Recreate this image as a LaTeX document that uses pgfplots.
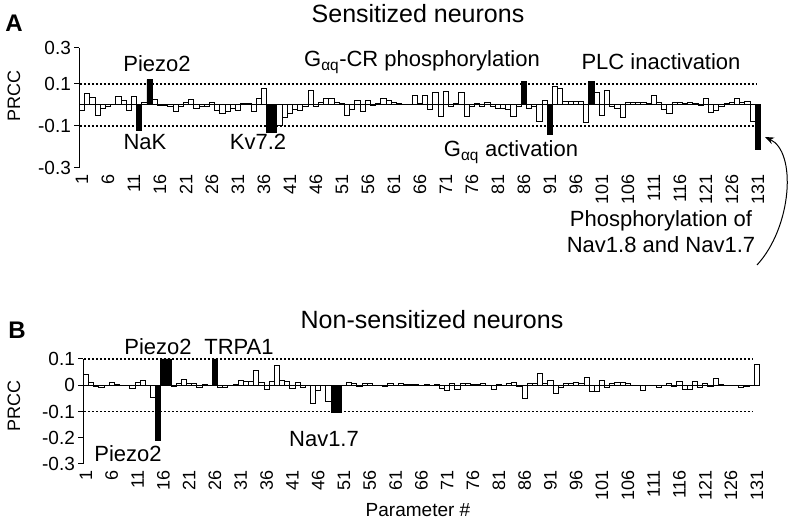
\documentclass[border=0pt]{standalone}
\usepackage{fontspec}
\setmainfont{Liberation Sans}
\usepackage{pgfplots}
\pgfplotsset{compat=1.18}
\usepackage{pgfplotstable}
\usetikzlibrary{arrows.meta}

\pgfplotstableread{
x a b
1 -0.025 0.04
2 0.055 0.012
3 0.037 -0.005
4 -0.05 -0.008
5 -0.015 0
6 -0.008 0.012
7 0.003 0.002
8 0.04 0
9 0.02 0
10 -0.027 -0.012
11 0.04 0.012
12 -0.12 0.017
13 0.01 0
14 0.12 -0.045
15 0.025 -0.21
16 -0.005 0.1
17 -0.005 0.1
18 -0.01 -0.003
19 -0.03 0.005
20 -0.01 0.022
21 0.01 0.008
22 0.025 0.005
23 -0.015 -0.008
24 -0.01 0.002
25 -0.008 0
26 0.012 0.1
27 -0.025 -0.008
28 -0.04 -0.008
29 -0.03 0
30 -0.015 0.002
31 -0.025 0.02
32 0.005 0.015
33 0.005 0.015
34 -0.03 0.055
35 0.03 0.01
36 0.08 -0.015
37 -0.13 0.015
38 -0.13 0.075
39 -0.1 0.02
40 -0.06 0.015
41 -0.04 -0.012
42 -0.02 0.012
43 -0.025 -0.008
44 -0.01 0
45 0.07 -0.07
46 -0.01 -0.02
47 0.01 0
48 0.03 -0.06
49 0.03 -0.105
50 0.01 -0.105
51 0.005 0
52 -0.05 0.012
53 -0.02 0.005
54 0.02 -0.005
55 -0.03 0.005
56 0.02 0.008
57 -0.005 0
58 0.005 0
59 0.03 -0.003
60 0.02 0.005
61 0.01 0
62 0.005 0.005
63 0 0.003
64 0.003 0.002
65 0.045 0.003
66 0.005 0
67 0.045 0.002
68 -0.02 0
69 0.06 0.003
70 -0.055 -0.012
71 0.065 -0.02
72 -0.01 0.005
73 0.005 -0.015
74 0.06 0.005
75 -0.055 0.005
76 -0.01 0.003
77 0.005 0.003
78 -0.01 0.005
79 0.01 0
80 -0.01 -0.015
81 -0.015 0.003
82 -0.015 0
83 -0.02 0.005
84 -0.055 0.01
85 -0.01 -0.005
86 0.11 -0.05
87 -0.015 0.005
88 -0.01 0.005
89 -0.08 0.045
90 0.02 0.005
91 -0.14 0.02
92 0.085 -0.03
93 0.08 -0.01
94 0.015 0.005
95 0.015 0.005
96 0.015 0.01
97 0.015 0.005
98 -0.085 0.03
99 0.11 -0.025
100 0.06 -0.025
101 -0.05 0.02
102 0.07 -0.01
103 -0.01 0.005
104 -0.015 0.01
105 -0.06 0.01
106 0.01 0.005
107 0.01 0
108 0.01 0
109 0.01 -0.02
110 0.005 0
111 0.045 0
112 0.01 -0.01
113 -0.02 0
114 -0.04 0.008
115 0.01 -0.005
116 0.01 0.015
117 0.005 -0.015
118 0.01 -0.015
119 0.005 0.015
120 -0.005 -0.01
121 0.03 0.005
122 -0.035 -0.005
123 -0.025 0.025
124 -0.01 0.003
125 0.005 0
126 0.01 0
127 0.03 0
128 0.01 -0.008
129 0.015 -0.005
130 -0.08 0
131 -0.21 0.08
}\prcc

\pgfplotstableread{
x a
12 -0.12
14 0.12
37 -0.13
38 -0.13
86 0.11
91 -0.14
99 0.11
131 -0.21
}\blackA

\pgfplotstableread{
x b
15 -0.21
16 0.1
17 0.1
26 0.1
49 -0.105
50 -0.105
}\blackB

\begin{document}
\begin{tikzpicture}[x=1pt,y=1pt]
\useasboundingbox (0,0) rectangle (795,527);
\pgfplotsset{
  prccaxis/.style={
    scale only axis, anchor=south west,
    axis y line=left, axis x line=bottom,
    x axis line style={draw=none},
    y axis line style={line width=1pt, -},
    xmin=0.5, xmax=131.5,
    xtick={1,6,...,131},
    xtick style={draw=none},
    ytick style={line width=1pt, black},
    tick align=outside, major tick length=5pt,
    xticklabel style={rotate=90, anchor=east, font=\fontsize{18}{18}\selectfont, inner sep=1pt},
    yticklabel style={font=\fontsize{19}{19}\selectfont},
    /pgf/number format/assume math mode=true,
    clip=false,
  },
  openbar/.style={ybar, bar width=1, bar shift=0pt, draw=black, fill=white, line width=0.9pt},
  fullbar/.style={ybar, bar width=1, bar shift=0pt, draw=black, fill=black, line width=0.9pt},
  dotline/.style={black, line width=1.6pt, dash pattern=on 1.6pt off 2.4pt, no marks},
}

% Panel A
\begin{axis}[prccaxis, at={(79.4pt,359pt)}, width=681pt, height=120pt,
  ymin=-0.3, ymax=0.27,
  ytick={-0.3,-0.1,0.1,0.27}, yticklabels={-0.3,-0.1,0.1,0.3}]
\addplot[openbar] table[x=x, y=a] {\prcc};
\addplot[fullbar] table[x=x, y=a] {\blackA};
\addplot[black, line width=1.3pt, no marks] coordinates {(0.5,0) (131.5,0)};
\addplot[dotline] coordinates {(0.6,0.1) (130.8,0.1)};
\addplot[dotline] coordinates {(0.6,-0.1) (130.8,-0.1)};
\end{axis}

% Panel B
\begin{axis}[prccaxis, at={(83.4pt,63pt)}, width=676pt, height=105pt,
  ymin=-0.3, ymax=0.1,
  ytick={-0.3,-0.2,-0.1,0,0.1}, yticklabels={-0.3,-0.2,-0.1,0,0.1}]
\addplot[openbar] table[x=x, y=b] {\prcc};
\addplot[fullbar] table[x=x, y=b] {\blackB};
\addplot[black, line width=1.3pt, no marks] coordinates {(0.5,0) (131.5,0)};
\addplot[dotline] coordinates {(0.6,0.1) (130.3,0.1)};
\addplot[dotline] coordinates {(0.6,-0.1) (130.3,-0.1)};
\end{axis}

% Panel A texts
\node[font=\fontsize{24}{24}\selectfont\bfseries] at (14,504) {A};
\node[font=\fontsize{25}{25}\selectfont, anchor=base] at (418,504) {Sensitized neurons};
\node[font=\fontsize{18}{18}\selectfont, rotate=90] at (14,431) {PRCC};
\begin{scope}[every node/.style={font=\fontsize{22}{22}\selectfont, anchor=base, inner sep=0pt}]
\node at (157,455) {Piezo2};
\node at (145,377) {NaK};
\node at (258,377) {Kv7.2};
\node at (422,460) {G\textsubscript{αq}-CR phosphorylation};
\node at (661,457) {PLC inactivation};
\node at (511,370) {G\textsubscript{αq} activation};
\node at (661,300) {Phosphorylation of};
\node at (661,274) {Nav1.8 and Nav1.7};
\end{scope}
\draw[-{Stealth[length=9pt,width=7pt]}, line width=1pt] (757,262) .. controls (792,300) and (797,375) .. (765,390);

% Panel B texts
\node[font=\fontsize{24}{24}\selectfont\bfseries] at (17,197) {B};
\node[font=\fontsize{25}{25}\selectfont, anchor=base] at (432,198) {Non-sensitized neurons};
\node[font=\fontsize{18}{18}\selectfont, rotate=90] at (14,121) {PRCC};
\begin{scope}[every node/.style={font=\fontsize{22}{22}\selectfont, anchor=base, inner sep=0pt}]
\node at (158,172) {Piezo2};
\node at (239,172) {TRPA1};
\node at (128,65) {Piezo2};
\node at (324,80) {Nav1.7};
\end{scope}
\node[font=\fontsize{19}{19}\selectfont, anchor=base, inner sep=0pt] at (418,10) {Parameter \#};
\end{tikzpicture}
\end{document}
